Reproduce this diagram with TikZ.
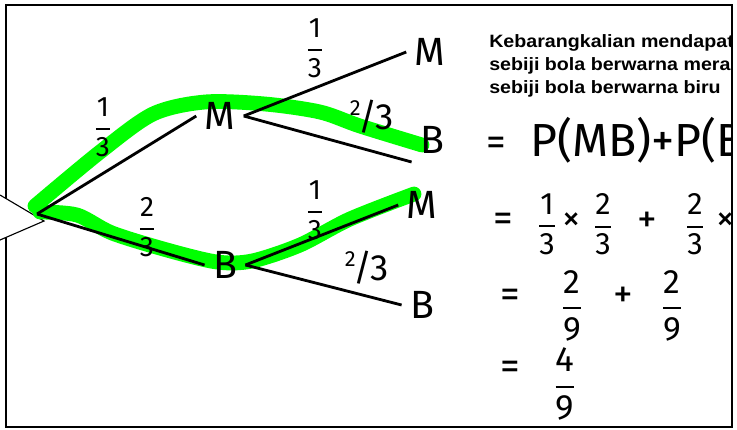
\documentclass[tikz,border=0pt]{standalone}
\usepackage{fontspec}
\usepackage{amsmath}
\usetikzlibrary{positioning}
\newfontfamily\notefont[FakeStretch=1.1]{Liberation Sans}
\newfontfamily\handfont{Fira Sans}
\definecolor{hilite}{RGB}{0,255,0}
\newcommand\hfrac[2]{$\genfrac{}{}{1.4pt}{0}{\text{#1}}{\text{#2}}$}
\newcommand\sfrac[2]{\raisebox{0.38em}{\scalebox{0.6}{#1}}\kern-0.05em/\kern-0.05em#2}

\tikzset{
  letter/.style={font=\handfont\fontsize{28}{28}\selectfont, inner sep=0pt, outer sep=6pt},
  prob/.style={font=\handfont\fontsize{20}{20}\selectfont, inner sep=0pt},
  slashprob/.style={font=\handfont\fontsize{26}{26}\selectfont, inner sep=0pt},
  hand/.style={font=\handfont\fontsize{#1}{#1}\selectfont, inner sep=0pt},
  hand/.default=20,
  branch/.style={line width=2pt},
  marker/.style={line width=0.37cm, draw=hilite, line cap=round, line join=round}
}

\begin{document}
\begin{tikzpicture}[x=0.025cm, y=-0.025cm]
  \useasboundingbox (0,0) rectangle (737,429);
  \draw[line width=1pt] (6,5) rectangle (732,427);

  % callout pointer on the left edge
  \coordinate (tipA) at (0,195);
  \coordinate (tip) at (44,221);
  \coordinate (tipB) at (0,240);
  \fill[white] (tipA) -- (tip) -- (tipB) -- cycle;
  \draw[line width=0.8pt] (tipA) -- (tip) -- (tipB);

  % green highlight of the two wanted paths
  \draw[marker] plot[smooth] coordinates {(35,206) (100,152) (153,114) (205,102) (265,104) (320,112) (360,126) (422,145)};
  \draw[marker] plot[smooth] coordinates {(40,212) (77,215) (112,233) (167,250) (217,262) (252,261) (300,245) (350,219) (414,194)};

  % tree
  \coordinate (root) at (37,214);
  \node[letter] (mA) at (220,116) {M};
  \node[letter] (bA) at (225,265) {B};
  \node[letter] (mAA) at (430,52) {M};
  \node[letter] (bAB) at (432,140) {B};
  \node[letter] (mBA) at (422,205) {M};
  \node[letter] (bBB) at (422,305) {B};

  \draw[branch] (root) -- (mA.west);
  \draw[branch] (root) -- (bA.west);
  \draw[branch] (mA.east) -- (mAA.west);
  \draw[branch] (mA.east) -- (bAB.south west);
  \draw[branch] (bA.east) -- (mBA.west);
  \draw[branch] (bA.east) -- (bBB.west);

  \node[prob] (pA) at (103,127) {\hfrac{1}{3}};
  \node[prob] (pB) at (147,227) {\hfrac{2}{3}};
  \node[prob] (pAA) at (315,48) {\hfrac{1}{3}};
  \node[slashprob] (pAB) at (372,117) {\sfrac{2}{3}};
  \node[prob] (pBA) at (315,210) {\hfrac{1}{3}};
  \node[slashprob] (pBB) at (367,268) {\sfrac{2}{3}};

  % working on the right, cut off by the frame
  \begin{scope}
    \clip (6,5) rectangle (732,427);
    \node[anchor=north west, inner sep=0pt, align=left,
          font=\notefont\bfseries\fontsize{12.7}{16.4}\selectfont] (note) at (489,34)
      {Kebarangkalian mendapat\\sebiji bola berwarna merah dan\\sebiji bola berwarna biru};

    \node[hand=28] (eqA) at (496,146) {=};
    \node[hand=33, anchor=west] (sumP) at (530,140) {P(MB)+P(BM)};

    \node[hand=28] (eqB) at (503,222) {=};
    \node[hand=22] (fA) at (547,224) {\hfrac{1}{3}};
    \node[hand=26] (xA) at (572,222) {×};
    \node[hand=22] (fB) at (603,224) {\hfrac{2}{3}};
    \node[hand=28] (plA) at (647,222) {+};
    \node[hand=22] (fC) at (695,224) {\hfrac{2}{3}};
    \node[hand=26] (xB) at (726,222) {×};

    \node[hand=28] (eqC) at (510,298) {=};
    \node[hand=24] (gA) at (572,306) {\hfrac{2}{9}};
    \node[hand=28] (plB) at (623,297) {+};
    \node[hand=24] (gB) at (672,306) {\hfrac{2}{9}};

    \node[hand=28] (eqD) at (510,370) {=};
    \node[hand=25] (hA) at (565,384) {\hfrac{4}{9}};
  \end{scope}
\end{tikzpicture}
\end{document}
